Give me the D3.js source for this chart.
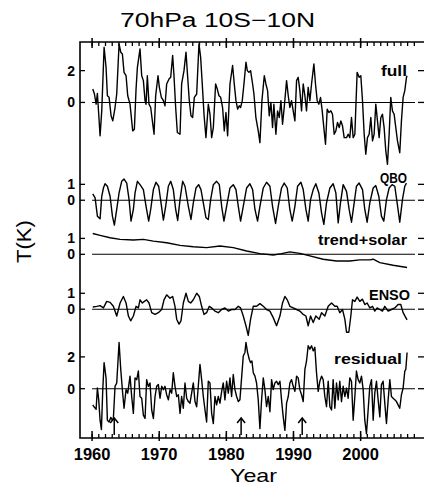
<!DOCTYPE html>
<html>
<head>
<meta charset="utf-8">
<script src="https://cdn.jsdelivr.net/npm/d3@7"></script>
<style>
  body { margin: 0; background: #fff; }
  svg { display: block; }
  text { font-family: "Liberation Sans", Arial, sans-serif; fill: #000; }
</style>
</head>
<body>
<div id="chart"></div>
<script>
// anomalias de temperatura 70hPa, 10S-10N  [año, K]
const fullSeries = [
  [1960.10,0.84],[1960.35,0.53],[1960.60,-0.11],[1960.79,0.57],[1960.99,-0.74],[1961.19,-2.1],[1961.44,-0.53],[1961.79,3.47],
  [1962.08,2.21],[1962.28,0.42],[1962.53,0.32],[1962.83,-0.84],[1963.08,-1.16],[1963.42,-0.32],[1963.67,0.53],[1964.02,3.68],
  [1964.27,3.16],[1964.51,3.05],[1964.76,1.89],[1965.06,1.68],[1965.31,0.42],[1965.65,-0.11],[1966.05,-1.79],[1966.30,-1.68],
  [1966.55,0.84],[1966.75,2.21],[1967.14,3.37],[1967.39,1.68],[1967.64,1.37],[1967.89,0.11],[1968.04,-0.11],[1968.23,1.68],
  [1968.48,-0.11],[1968.73,-0.32],[1968.98,-1.16],[1969.23,-2.0],[1969.47,0.42],[1969.82,1.68],[1970.02,0.95],[1970.32,0.32],
  [1970.62,0.11],[1970.86,-0.21],[1971.11,1.16],[1971.46,1.47],[1971.71,1.58],[1972.00,2.95],[1972.20,1.68],[1972.45,-0.32],
  [1972.70,-1.89],[1973.10,-2.0],[1973.34,1.16],[1973.69,2.0],[1973.99,3.16],[1974.24,1.58],[1974.48,0.11],[1974.73,-0.84],
  [1974.98,-0.95],[1975.23,0.32],[1975.58,0.53],[1975.92,3.68],[1976.17,2.84],[1976.47,0.74],[1976.67,-0.74],[1976.96,-2.21],
  [1977.31,-0.11],[1977.56,-0.74],[1977.81,-2.21],[1978.06,-1.58],[1978.40,1.16],[1978.65,0.84],[1978.90,0.42],[1979.15,0.32],
  [1979.44,-0.32],[1979.69,-1.79],[1979.94,-0.63],[1980.19,-2.1],[1980.54,1.16],[1980.93,2.32],[1981.18,1.16],[1981.43,0.11],
  [1981.68,-0.42],[1981.92,-0.21],[1982.12,-0.32],[1982.37,0.11],[1982.62,1.16],[1982.92,2.53],[1983.12,2.0],[1983.36,1.89],
  [1983.61,2.0],[1983.91,1.16],[1984.11,0.53],[1984.40,-0.95],[1984.75,-1.79],[1985.00,-2.53],[1985.30,0.11],[1985.65,1.68],
  [1985.89,1.16],[1986.14,0.74],[1986.39,-0.84],[1986.64,0],[1986.88,-1.58],[1987.08,-0.11],[1987.38,-2.0],[1987.63,-0.53],
  [1987.88,-0.95],[1988.13,0.11],[1988.37,-1.37],[1988.62,-0.32],[1988.97,1.37],[1989.22,0.42],[1989.46,-0.32],[1989.71,0.11],
  [1989.96,-0.53],[1990.21,-1.16],[1990.46,1.37],[1990.70,1.58],[1990.95,0.74],[1991.20,-0.53],[1991.45,1.16],[1991.70,0.42],
  [1991.94,-0.53],[1992.19,0.95],[1992.44,0.11],[1992.69,1.16],[1993.04,2.42],[1993.28,1.16],[1993.53,0.11],[1993.78,-0.11],
  [1994.03,0.32],[1994.28,-0.53],[1994.52,-1.58],[1994.77,-2.63],[1995.02,-0.42],[1995.27,-0.63],[1995.57,-0.53],[1995.81,-0.74],
  [1996.06,-2.0],[1996.31,-1.79],[1996.56,-1.26],[1996.81,-1.58],[1997.05,-1.16],[1997.30,-1.47],[1997.55,-2.21],[1997.90,-2.21],
  [1998.14,-2.0],[1998.39,-2.21],[1998.64,-0.95],[1998.89,-2.21],[1999.14,-2.0],[1999.48,1.89],[1999.78,1.58],[2000.03,1.68],
  [2000.28,0.11],[2000.53,-2.0],[2000.77,-3.26],[2001.02,-2.21],[2001.27,-2.0],[2001.52,-0.95],[2001.77,-2.42],[2002.01,-2.0],
  [2002.26,-0.11],[2002.51,-1.16],[2002.76,-2.21],[2003.01,-0.95],[2003.25,-0.74],[2003.50,-1.58],[2003.75,-3.05],[2004.00,-3.89],
  [2004.25,-2.0],[2004.49,0.32],[2004.74,-0.53],[2004.99,-0.74],[2005.24,-1.58],[2005.49,-2.42],[2005.83,-3.16],[2006.08,-1.16],
  [2006.33,0.32],[2006.58,0.74],[2006.83,1.58],[2006.92,1.68]
];

const qboSeries = [
  [1960.10,0.40],[1960.45,0.15],[1960.79,-1.0],[1961.19,-1.17],[1961.44,0.25],[1961.69,0.77],[1961.93,1.04],[1962.28,0.88],
  [1962.68,0.25],[1963.03,-1.0],[1963.32,-1.56],[1963.67,-0.58],[1964.02,0.46],[1964.41,1.19],[1964.76,1.33],[1965.16,1.08],
  [1965.51,0.04],[1965.80,-1.31],[1966.15,-0.58],[1966.40,0.46],[1966.75,1.19],[1967.14,0.98],[1967.64,0.67],[1968.04,-0.38],
  [1968.43,-1.31],[1968.73,-0.58],[1969.13,0.67],[1969.52,1.13],[1969.92,0.88],[1970.27,-0.17],[1970.62,-1.25],[1970.96,-0.38],
  [1971.36,0.88],[1971.71,1.19],[1972.10,0.67],[1972.45,-0.58],[1972.75,-1.27],[1973.10,0.04],[1973.49,1.19],[1973.84,0.88],
  [1974.34,-0.38],[1974.73,-1.21],[1975.08,-0.17],[1975.48,0.77],[1975.87,0.98],[1976.22,0.67],[1976.57,-0.17],[1976.96,-1.10],
  [1977.31,-1.21],[1977.66,0.04],[1978.06,0.98],[1978.55,1.19],[1978.95,0.98],[1979.30,-0.38],[1979.64,-1.31],[1980.04,-0.38],
  [1980.54,0.77],[1981.03,0.98],[1981.43,0.67],[1981.78,-0.38],[1982.12,-1.31],[1982.52,-0.38],[1983.02,0.77],[1983.51,1.04],
  [1983.91,0.67],[1984.26,-0.58],[1984.65,-1.31],[1985.00,-0.38],[1985.50,0.77],[1985.99,1.13],[1986.49,0.88],[1986.88,-0.38],
  [1987.33,-1.46],[1987.73,-0.38],[1988.22,0.77],[1988.62,1.08],[1989.07,0.77],[1989.46,-0.58],[1989.81,-1.31],[1990.21,-0.38],
  [1990.61,0.88],[1991.10,1.13],[1991.45,0.67],[1991.85,-0.58],[1992.19,-1.31],[1992.54,0.04],[1992.94,0.67],[1993.33,1.04],
  [1993.78,0.46],[1994.18,-0.79],[1994.52,-1.52],[1994.92,-0.17],[1995.42,0.77],[1995.91,1.04],[1996.31,0.46],[1996.66,-1.42],
  [1997.00,-0.17],[1997.40,0.98],[1997.90,0.56],[1998.29,-0.58],[1998.64,-1.38],[1999.04,-0.17],[1999.38,0.88],[1999.78,1.08],
  [2000.28,0.67],[2000.62,-0.58],[2000.97,-1.38],[2001.37,-0.17],[2001.87,0.77],[2002.26,0.92],[2002.71,0.25],[2003.10,-1.0],
  [2003.45,-1.31],[2003.85,0.04],[2004.25,0.77],[2004.69,0.98],[2005.09,0.88],[2005.44,-0.17],[2005.83,-1.38],[2006.23,0.04],
  [2006.58,0.88],[2006.83,1.08]
];

const trendSolarSeries = [
  [1960.10,1.31],[1961.19,1.19],[1962.68,1.04],[1964.17,0.94],[1966.15,0.90],[1967.64,0.94],[1969.13,0.83],[1971.11,0.73],
  [1973.10,0.56],[1975.08,0.48],[1977.06,0.42],[1979.05,0.52],[1981.03,0.42],[1983.02,0.21],[1985.00,0.04],[1986.98,-0.04],
  [1988.22,0.04],[1989.46,0.15],[1990.95,0.06],[1992.44,-0.10],[1994.42,-0.31],[1996.41,-0.42],[1998.39,-0.42],[1999.88,-0.35],
  [2001.37,-0.35],[2001.87,-0.31],[2002.86,-0.52],[2004.84,-0.69],[2006.92,-0.83]
];

const ensoSeries = [
  [1960.10,0.14],[1960.69,0.18],[1961.19,0.22],[1961.69,0.08],[1962.18,0.49],[1962.68,0.43],[1963.17,0.18],[1963.67,-0.43],
  [1964.17,0.39],[1964.66,0.80],[1965.06,0.39],[1965.41,-0.43],[1965.75,-0.73],[1966.15,-0.43],[1966.55,0.18],[1966.90,0.08],
  [1967.14,0.59],[1967.49,0.39],[1967.79,0.49],[1968.13,0.59],[1968.48,0.39],[1968.88,-0.22],[1969.38,-0.33],[1969.87,-0.22],
  [1970.37,-0.02],[1970.71,0.59],[1971.11,0.90],[1971.61,0.69],[1972.00,0.80],[1972.35,0.18],[1972.60,-0.63],[1972.95,-0.94],
  [1973.24,-0.73],[1973.59,0.39],[1973.99,1.0],[1974.34,0.49],[1974.68,0.39],[1975.08,0.59],[1975.58,1.0],[1975.97,0.80],
  [1976.32,0.18],[1976.67,-0.33],[1977.06,-0.22],[1977.46,0.18],[1977.81,0.08],[1978.30,-0.12],[1978.80,-0.22],[1979.30,-0.02],
  [1979.79,0.08],[1980.29,-0.12],[1980.78,-0.02],[1981.28,-0.02],[1981.78,0.18],[1982.12,0.08],[1982.52,-0.43],[1982.92,-1.04],
  [1983.26,-1.65],[1983.61,-0.63],[1984.01,0.18],[1984.50,0.18],[1985.00,0.35],[1985.50,0.18],[1985.99,-0.02],[1986.49,-0.12],
  [1986.98,-0.53],[1987.48,-1.04],[1987.98,-0.43],[1988.37,0.39],[1988.72,0.80],[1989.07,0.59],[1989.46,0.18],[1989.96,0.08],
  [1990.46,-0.02],[1990.95,-0.12],[1991.45,-0.33],[1991.85,-0.43],[1992.19,-1.04],[1992.54,-0.43],[1992.94,-0.84],[1993.33,-0.43],
  [1993.83,-0.63],[1994.18,-0.22],[1994.67,-0.43],[1995.17,0.18],[1995.67,0.39],[1996.16,0.18],[1996.51,0.18],[1996.90,-0.22],
  [1997.30,-0.02],[1997.65,-0.63],[1997.90,-1.45],[1998.24,-1.45],[1998.54,-0.43],[1998.79,0.59],[1999.14,0.49],[1999.48,0.76],
  [1999.88,0.49],[2000.28,0.63],[2000.62,0.29],[2000.97,0.39],[2001.37,0.08],[2001.77,0.18],[2002.11,-0.12],[2002.46,0.08],
  [2002.86,-0.02],[2003.25,-0.12],[2003.60,0.18],[2004.10,-0.12],[2004.59,-0.02],[2005.09,0.08],[2005.58,0.29],[2005.98,0.29],
  [2006.33,-0.22],[2006.73,-0.53],[2006.92,-0.67]
];

const residualSeries = [
  [1960.10,-1.02],[1960.35,-1.17],[1960.60,-1.30],[1960.79,0.04],[1960.99,-0.70],[1961.19,-1.98],[1961.39,-2.57],[1961.59,-0.06],
  [1961.79,1.64],[1962.08,0.68],[1962.28,-1.98],[1962.53,-2.09],[1962.78,-1.81],[1963.03,-1.98],[1963.17,-1.87],[1963.42,0.15],
  [1963.67,0.36],[1964.02,2.91],[1964.27,1.21],[1964.51,-0.06],[1964.76,-1.23],[1965.06,-0.06],[1965.31,-0.28],[1965.65,0.79],
  [1965.90,-0.49],[1966.15,-1.55],[1966.40,0.68],[1966.65,0.57],[1966.89,1.11],[1967.14,-0.49],[1967.39,-0.60],[1967.64,-1.66],
  [1967.89,-1.87],[1968.13,0.57],[1968.38,0.15],[1968.63,0.36],[1968.88,-1.34],[1969.13,-1.87],[1969.38,-0.49],[1969.62,0.15],
  [1969.87,0.26],[1970.12,-0.60],[1970.37,0.15],[1970.62,-0.06],[1970.86,0.15],[1971.11,-0.38],[1971.36,-0.70],[1971.61,-0.06],
  [1971.86,-0.28],[1972.10,1.0],[1972.35,0.15],[1972.60,-0.49],[1972.85,-0.38],[1973.10,-1.55],[1973.34,-0.49],[1973.59,-1.23],
  [1973.84,0.36],[1974.09,-0.60],[1974.34,-0.81],[1974.58,-0.91],[1974.83,-0.28],[1975.08,0.36],[1975.33,-0.81],[1975.58,-1.13],
  [1975.82,0.15],[1976.07,1.53],[1976.32,0.57],[1976.57,-0.49],[1976.82,-1.34],[1977.06,-2.09],[1977.31,0.47],[1977.56,0.36],
  [1977.81,-1.55],[1978.06,-2.19],[1978.30,-0.49],[1978.55,-1.02],[1978.80,-0.49],[1979.05,-0.91],[1979.30,-0.17],[1979.54,0.36],
  [1979.79,-0.70],[1980.04,0.47],[1980.29,-0.28],[1980.54,0.68],[1980.78,-0.49],[1981.03,0.89],[1981.28,-0.06],[1981.53,-0.49],
  [1981.78,-0.81],[1982.02,-0.70],[1982.27,0.68],[1982.52,2.06],[1982.77,2.28],[1982.92,2.91],[1983.16,2.28],[1983.41,1.85],
  [1983.61,1.64],[1983.81,1.74],[1984.01,1.0],[1984.26,0.79],[1984.50,0.36],[1984.75,-0.70],[1985.00,-2.51],[1985.25,-0.70],
  [1985.50,0.68],[1985.74,-0.06],[1985.99,-1.13],[1986.24,-0.49],[1986.49,-1.45],[1986.74,0.57],[1986.98,-0.06],[1987.23,0.36],
  [1987.48,0.47],[1987.73,0.26],[1987.98,0.47],[1988.22,-0.70],[1988.47,-1.77],[1988.72,-2.62],[1988.97,-0.91],[1989.22,-0.49],
  [1989.46,0.36],[1989.71,0.57],[1989.96,0.15],[1990.21,-0.17],[1990.46,0.79],[1990.70,0.68],[1990.95,-0.06],[1991.20,-0.38],
  [1991.45,-0.81],[1991.70,1.21],[1991.94,1.74],[1992.19,2.70],[1992.44,2.49],[1992.69,2.70],[1992.94,2.38],[1993.18,2.60],
  [1993.43,1.0],[1993.68,-0.17],[1993.93,0.47],[1994.18,0.79],[1994.42,0.57],[1994.67,-0.49],[1994.92,-1.13],[1995.17,0.47],
  [1995.42,-1.13],[1995.67,-1.34],[1995.91,0.57],[1996.16,-1.23],[1996.41,0.36],[1996.66,-0.70],[1996.90,0.47],[1997.15,-0.81],
  [1997.40,0.15],[1997.65,-0.49],[1997.90,0.04],[1998.14,-0.60],[1998.39,0.68],[1998.64,0.47],[1998.89,-1.98],[1999.14,-0.49],
  [1999.38,1.11],[1999.63,0.57],[1999.88,0.36],[2000.13,0.79],[2000.38,-0.06],[2000.62,-1.98],[2000.87,-2.83],[2001.12,-1.34],
  [2001.37,0.15],[2001.62,0.57],[2001.87,-1.98],[2002.11,-0.28],[2002.36,0.47],[2002.61,-0.70],[2002.86,-1.77],[2003.10,0.26],
  [2003.35,0.47],[2003.60,-0.91],[2003.85,-2.19],[2004.10,-0.70],[2004.35,0.57],[2004.59,-0.49],[2004.84,-0.60],[2005.09,-0.70],
  [2005.34,-0.81],[2005.58,-1.02],[2005.83,-1.23],[2006.08,-0.38],[2006.33,0.04],[2006.58,1.11],[2006.73,1.21],[2006.92,2.28]
];

const panelNames = ['full', 'QBO', 'trend+solar', 'ENSO', 'residual'];
const panelTicks = [[0, 2], [0, 1], [0, 1], [0, 1], [0, 2]];
const decadeTicks = [1960, 1970, 1980, 1990, 2000];
const volcanoYears = [1963.3, 1982.2, 1991.3];

// ---- maquetacion ----
const width = 424;
const height = 487;
const plotLeft = 80, plotRight = 415, plotTop = 42, plotBottom = 438;
// desplazamiento vertical (K) de cada panel
const offsets = [18, 11.85, 8.45, 5, 0];
// etiqueta de cada panel: [x derecha, baseline, ancho, tamaño]
const labelPos = [[407, 76, 26, 15], [407, 183, 27, 14], [407, 245, 89, 15], [410, 300, 41, 14], [402, 364, 68, 15]];

const allSeries = [fullSeries, qboSeries, trendSolarSeries, ensoSeries, residualSeries];

const svg = d3.select('#chart')
  .append('svg')
  .attr('width', width)
  .attr('height', height);

const x = d3.scaleLinear().domain([1958.2, 2008.1]).range([plotLeft, plotRight]);
const y = d3.scaleLinear().domain([-3.1, 21.8]).range([plotBottom, plotTop]);

// marco: izquierda, arriba, abajo
svg.append('path')
  .attr('d', `M${width},${plotTop}H${plotLeft}V${plotBottom}H${width}`)
  .attr('fill', 'none')
  .attr('stroke', '#000')
  .attr('stroke-width', 1.6);

// ticks menores (cada año) arriba y abajo
const minorYears = d3.range(1960, 2009);
svg.selectAll('.minor-top')
  .data(minorYears)
  .enter()
  .append('line')
  .attr('x1', d => x(d)).attr('x2', d => x(d))
  .attr('y1', plotTop).attr('y2', plotTop + 4)
  .attr('stroke', '#000').attr('stroke-width', 1.3);
svg.selectAll('.minor-bottom')
  .data(minorYears)
  .enter()
  .append('line')
  .attr('x1', d => x(d)).attr('x2', d => x(d))
  .attr('y1', plotBottom).attr('y2', plotBottom - 4)
  .attr('stroke', '#000').attr('stroke-width', 1.3);

// ticks mayores (decadas)
svg.selectAll('.major-top')
  .data(decadeTicks)
  .enter()
  .append('line')
  .attr('x1', d => x(d)).attr('x2', d => x(d))
  .attr('y1', plotTop - 4).attr('y2', plotTop + 6)
  .attr('stroke', '#000').attr('stroke-width', 1.5);
svg.selectAll('.major-bottom')
  .data(decadeTicks)
  .enter()
  .append('line')
  .attr('x1', d => x(d)).attr('x2', d => x(d))
  .attr('y1', plotBottom + 3).attr('y2', plotBottom - 7)
  .attr('stroke', '#000').attr('stroke-width', 1.5);

svg.selectAll('.year-label')
  .data(decadeTicks)
  .enter()
  .append('text')
  .attr('x', d => x(d))
  .attr('y', 460)
  .attr('text-anchor', 'middle')
  .attr('font-size', 16.5)
  .attr('font-weight', 'bold')
  .text(d => d);

// paneles
const line = d3.line();
panelNames.forEach((name, i) => {
  const off = offsets[i];

  // linea de cero
  svg.append('line')
    .attr('x1', x(1960)).attr('x2', plotRight)
    .attr('y1', y(off)).attr('y2', y(off))
    .attr('stroke', '#000').attr('stroke-width', 1.1);

  // ticks eje izquierdo y derecho
  panelTicks[i].forEach(t => {
    const yy = y(off + t);
    svg.append('line')
      .attr('x1', plotLeft).attr('x2', plotLeft + 5)
      .attr('y1', yy).attr('y2', yy)
      .attr('stroke', '#000').attr('stroke-width', 1.3);
    svg.append('line')
      .attr('x1', width - 6).attr('x2', width)
      .attr('y1', yy).attr('y2', yy)
      .attr('stroke', '#000').attr('stroke-width', 1.3);
    svg.append('text')
      .attr('x', 75)
      .attr('y', yy)
      .attr('dy', '0.36em')
      .attr('text-anchor', 'end')
      .attr('font-size', 14)
      .attr('font-weight', 'bold')
      .text(t);
  });

  // serie
  line.x(d => x(d[0])).y(d => y(d[1] + off));
  svg.append('path')
    .attr('d', line(allSeries[i]))
    .attr('fill', 'none')
    .attr('stroke', '#000')
    .attr('stroke-width', 1.4)
    .attr('stroke-linejoin', 'round');

  const [lx, ly, lw, ls] = labelPos[i];
  svg.append('text')
    .attr('x', lx - lw)
    .attr('y', ly)
    .attr('font-size', ls)
    .attr('font-weight', 'bold')
    .attr('textLength', lw)
    .attr('lengthAdjust', 'spacingAndGlyphs')
    .text(name);
});

// flechas de erupciones volcanicas
const arrows = svg.selectAll('.volcan')
  .data(volcanoYears)
  .enter()
  .append('g')
  .attr('transform', d => `translate(${x(d)},0)`);
arrows.append('line')
  .attr('x1', 0).attr('x2', 0)
  .attr('y1', 435).attr('y2', 418)
  .attr('stroke', '#000').attr('stroke-width', 1.5);
arrows.append('path')
  .attr('d', 'M-4,423L0,418L4,423')
  .attr('fill', 'none')
  .attr('stroke', '#000').attr('stroke-width', 1.5);

// titulos
svg.append('text')
  .attr('x', 120)
  .attr('y', 27)
  .attr('font-size', 20)
  .attr('textLength', 195)
  .attr('lengthAdjust', 'spacingAndGlyphs')
  .text('70hPa 10S\u221210N');

svg.append('text')
  .attr('x', 230)
  .attr('y', 482)
  .attr('font-size', 19)
  .attr('textLength', 47)
  .attr('lengthAdjust', 'spacingAndGlyphs')
  .text('Year');

svg.append('text')
  .attr('transform', 'translate(31,263) rotate(-90)')
  .attr('font-size', 20)
  .attr('textLength', 43)
  .attr('lengthAdjust', 'spacingAndGlyphs')
  .text('T(K)');
</script>
</body>
</html>
